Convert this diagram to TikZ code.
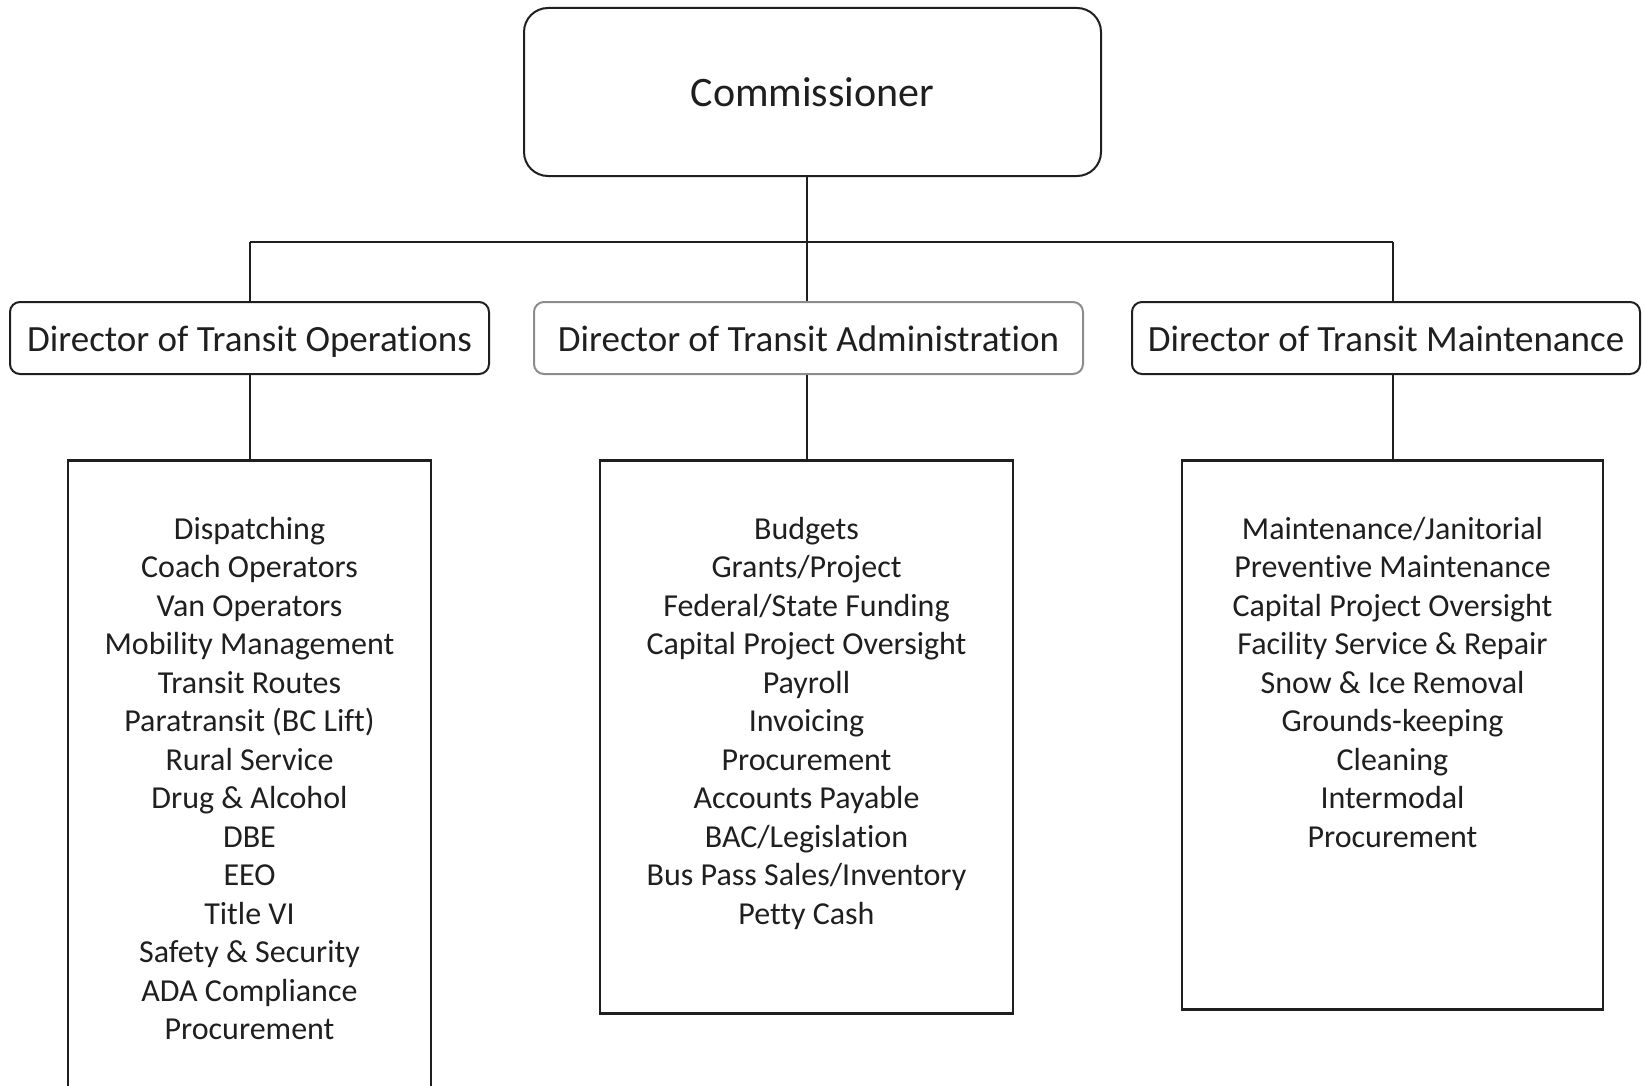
\documentclass[tikz,border=0pt]{standalone}
\usepackage{fontspec}
\setmainfont{Carlito}[Ligatures=NoCommon]
\begin{document}
\begin{tikzpicture}[x=.5pt, y=-.5pt, line width=1pt, color=black!88,
  topbox/.style={draw, rounded corners=12pt, minimum width=288.5pt, minimum height=84pt, font=\fontsize{21}{25}\selectfont},
  dirbox/.style={draw, rounded corners=5pt, minimum height=36pt, inner sep=0pt, text height=17pt, text depth=4pt, font=\fontsize{18.5}{22}\selectfont},
  dutybox/.style={draw, line width=1.3pt, anchor=north, inner sep=0pt},
  duties/.style={anchor=north, align=center, inner sep=0pt, font=\fontsize{16}{19.25}\selectfont}]
\clip (0,0) rectangle (1644,1086);
\node[topbox] (comm) at (812.5,92) {Commissioner};
\node[dirbox, minimum width=239.5pt] (ops) at (249.5,338) {Director of Transit Operations};
\node[dirbox, minimum width=274.5pt, draw=black!45] (adm) at (808.5,338) {Director of Transit Administration};
\node[dirbox, minimum width=254pt] (mnt) at (1386,338) {Director of Transit Maintenance};
\node[dutybox, minimum width=181.5pt, minimum height=321pt] (opsbox) at (249.5,459) {};
\node[dutybox, minimum width=206.5pt, minimum height=276.5pt] (admbox) at (806.5,459) {};
\node[dutybox, minimum width=210.5pt, minimum height=274.5pt] (mntbox) at (1392.5,459) {};
\node[duties] (opslist) at (249.5,516) {Dispatching\\Coach Operators\\Van Operators\\Mobility Management\\Transit Routes\\Paratransit (BC Lift)\\Rural Service\\Drug \& Alcohol\\DBE\\EEO\\Title VI\\Safety \& Security\\ADA Compliance\\Procurement};
\node[duties] (admlist) at (806.5,516) {Budgets\\Grants/Project\\Federal/State Funding\\Capital Project Oversight\\Payroll\\Invoicing\\Procurement\\Accounts Payable\\BAC/Legislation\\Bus Pass Sales/Inventory\\Petty Cash};
\node[duties] (mntlist) at (1392.5,516) {Maintenance/Janitorial\\Preventive Maintenance\\Capital Project Oversight\\Facility Service \& Repair\\Snow \& Ice Removal\\Grounds-keeping\\Cleaning\\Intermodal\\Procurement};
% connectors
\coordinate (bus) at (0,242);
\draw (admbox.north |- comm.south) -- (admbox.north |- bus);
\draw (opsbox.north |- bus) -- (mntbox.north |- bus);
\foreach \d/\b in {ops/opsbox, adm/admbox, mnt/mntbox}{
  \draw (\b.north |- bus) -- (\b.north |- \d.north);
  \draw (\b.north |- \d.south) -- (\b.north);
}
\end{tikzpicture}
\end{document}
